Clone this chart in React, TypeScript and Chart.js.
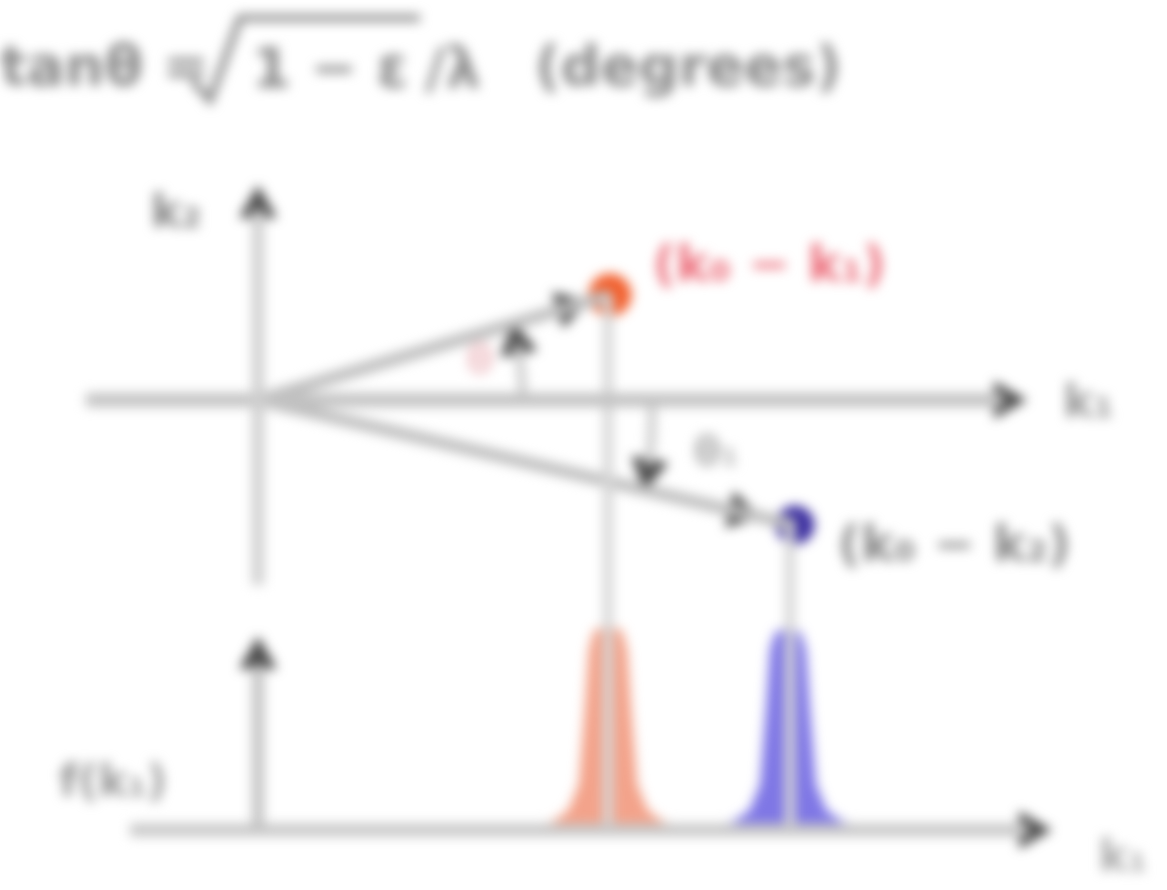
import React, { useEffect, useRef } from "react";
import { Chart, registerables } from "chart.js";

Chart.register(...registerables);

// ---- data (diagram units) ----
const upperAxisX = [{ x: -1.72, y: 0 }, { x: 7.45, y: 0 }];
const upperAxisY = [{ x: 0, y: -1.85 }, { x: 0, y: 1.9 }];
const lowerAxisX = [{ x: -1.28, y: 0 }, { x: 7.7, y: 0 }];
const lowerAxisY = [{ x: 0, y: 0 }, { x: 0, y: 1.65 }];

const redVector = [{ x: 0, y: 0 }, { x: 3.52, y: 1.05 }];
const blueVector = [{ x: 0, y: 0 }, { x: 5.37, y: -1.25 }];
const redArc = [{ x: 2.65, y: 0 }, { x: 2.64, y: 0.2 }, { x: 2.62, y: 0.4 }, { x: 2.59, y: 0.56 }];
const blueArc = [{ x: 3.94, y: 0 }, { x: 3.94, y: -0.2 }, { x: 3.93, y: -0.45 }, { x: 3.9, y: -0.66 }];

const redPoint = [{ x: 3.52, y: 1.05 }];
const bluePoint = [{ x: 5.37, y: -1.25 }];

const redDrop = [{ x: 3.5, y: 0 }, { x: 3.5, y: 5.35 }];
const blueDrop = [{ x: 5.32, y: 0 }, { x: 5.32, y: 3.05 }];

const redPeakX = [2.75, 2.95, 3.12, 3.23, 3.29, 3.33, 3.38, 3.5, 3.62, 3.67, 3.71, 3.77, 3.88, 4.05, 4.25];
const redPeakY = [0, 0.06, 0.18, 0.45, 1.2, 1.8, 1.98, 2.02, 1.98, 1.8, 1.2, 0.45, 0.18, 0.06, 0];
const bluePeakX = [4.55, 4.75, 4.93, 5.04, 5.1, 5.14, 5.19, 5.3, 5.41, 5.46, 5.5, 5.56, 5.67, 5.85, 6.05];
const bluePeakY = [0, 0.06, 0.18, 0.45, 1.2, 1.8, 1.96, 2.0, 1.96, 1.8, 1.2, 0.45, 0.18, 0.06, 0];

const arrowsUpper = [
  { x: 7.47, y: 0 },
  { x: 0, y: 1.93 },
  { x: 3.1, y: 0.93 },
  { x: 4.82, y: -1.12 },
  { x: 2.59, y: 0.57 },
  { x: 3.9, y: -0.7 },
];
const arrowsUpperRot = [90, 0, 73, 103, -10, 190];
const arrowsLower = [{ x: 7.72, y: 0 }, { x: 0, y: 1.72 }];
const arrowsLowerRot = [90, 0];

const labelTexts = ["k₂", "k₁", "(k₀ − k₁)", "(k₀ − k₂)", "θ", "θ₁", "f(k₁)", "k₁"];

const pk = (xs: number[], ys: number[]) => xs.map((x, i) => ({ x, y: ys[i] }));

export default function App() {
  const ref = useRef<HTMLCanvasElement>(null);
  useEffect(() => {
    if (!ref.current) return;
    const line = (data: any, color: string, width: number, axis = "y", extra: any = {}) => ({
      data,
      showLine: true,
      borderColor: color,
      borderWidth: width,
      pointRadius: 0,
      yAxisID: axis,
      fill: false,
      ...extra,
    });
    const labelsPlugin = {
      id: "labels",
      afterDatasetsDraw(chart: any) {
        const ctx = chart.ctx;
        const sx = chart.scales.x, sy = chart.scales.y, sy2 = chart.scales.y2;
        const font = (s: number, w = "bold") => `${w} ${s}px "DejaVu Sans", sans-serif`;
        ctx.save();
        ctx.textBaseline = "middle";
        // title formula
        ctx.fillStyle = "#8a8a8a";
        ctx.font = font(56);
        ctx.textAlign = "left";
        ctx.fillText("tanθ =", 0, 70);
        ctx.strokeStyle = "#8a8a8a";
        ctx.lineWidth = 7;
        ctx.beginPath();
        ctx.moveTo(192, 80);
        ctx.lineTo(210, 100);
        ctx.lineTo(240, 18);
        ctx.lineTo(420, 18);
        ctx.stroke();
        ctx.fillText("1 − ε", 252, 72);
        ctx.fillText("/λ", 425, 72);
        ctx.fillText("(degrees)", 535, 70);
        const place = (t: string, x: number, y: number, color: string, size: number, align = "left") => {
          ctx.fillStyle = color;
          ctx.font = font(size);
          ctx.textAlign = align;
          ctx.fillText(t, x, y);
        };
        place(labelTexts[0], sx.getPixelForValue(-0.82), sy.getPixelForValue(1.85), "#888", 46, "center");
        place(labelTexts[1], sx.getPixelForValue(8.05), sy.getPixelForValue(-0.05), "#999", 46);
        place(labelTexts[2], sx.getPixelForValue(3.95), sy.getPixelForValue(1.32), "#ec6f7c", 50);
        place(labelTexts[3], sx.getPixelForValue(5.8), sy.getPixelForValue(-1.48), "#888", 50);
        place(labelTexts[4], sx.getPixelForValue(2.22), sy.getPixelForValue(0.37), "#f0c8cc", 40, "center");
        place(labelTexts[5], sx.getPixelForValue(4.58), sy.getPixelForValue(-0.55), "#b5b5b5", 40, "center");
        place(labelTexts[6], sx.getPixelForValue(-1.45), sy2.getPixelForValue(0.45), "#999", 44, "center");
        place(labelTexts[7], sx.getPixelForValue(8.65), sy2.getPixelForValue(-0.3), "#aaa", 44, "center");
        ctx.restore();
      },
    };
    const chart = new Chart(ref.current, {
      type: "scatter",
      data: {
        datasets: [
          line(upperAxisY, "#cfcfcf", 12),
          line(upperAxisX, "#c2c2c2", 14),
          line(lowerAxisY, "#c2c2c2", 12, "y2"),
          line(lowerAxisX, "#c8c8c8", 13, "y2"),
          line(redDrop, "#d6d6d6", 10, "y2"),
          line(blueDrop, "#d6d6d6", 10, "y2"),
          line(pk(redPeakX, redPeakY), "rgba(240,140,110,0.55)", 6, "y2", {
            fill: { value: 0 },
            backgroundColor: "rgba(240,140,110,0.8)",
          }),
          line(pk(bluePeakX, bluePeakY), "rgba(110,100,230,0.55)", 6, "y2", {
            fill: { value: 0 },
            backgroundColor: "rgba(105,95,225,0.85)",
          }),
          line(redVector, "#bdbdbd", 12),
          line(blueVector, "#bdbdbd", 12),
          line(redArc, "#c8c8c8", 8),
          line(blueArc, "#c8c8c8", 8),
          {
            data: arrowsUpper,
            pointStyle: "triangle",
            pointRotation: arrowsUpperRot,
            pointRadius: 18,
            backgroundColor: "#4a4a4a",
            borderColor: "#4a4a4a",
            borderWidth: 4,
            yAxisID: "y",
          },
          {
            data: arrowsLower,
            pointStyle: "triangle",
            pointRotation: arrowsLowerRot,
            pointRadius: 18,
            backgroundColor: "#4a4a4a",
            borderColor: "#4a4a4a",
            borderWidth: 4,
            yAxisID: "y2",
          },
          { data: redPoint, pointRadius: 21, backgroundColor: "#f2602e", borderColor: "#f2602e", yAxisID: "y" },
          { data: bluePoint, pointRadius: 19, backgroundColor: "#3b2ea0", borderColor: "#3b2ea0", yAxisID: "y" },
        ],
      },
      options: {
        responsive: false,
        animation: false,
        layout: { padding: 0, autoPadding: false },
        plugins: { legend: { display: false }, tooltip: { enabled: false } },
        scales: {
          x: { type: "linear", min: -2.58, max: 9.09, display: false },
          y: { type: "linear", min: -4.9, max: 4.0, display: false },
          y2: { type: "linear", min: -0.6, max: 8.3, display: false },
        },
      },
      plugins: [labelsPlugin],
    } as any);
    return () => chart.destroy();
  }, []);
  return (
    <div style={{ position: "fixed", left: 0, top: 0, width: 1167, height: 890, background: "#fff" }}>
      <canvas ref={ref} width={1167} height={890} style={{ display: "block", filter: "blur(6px)" }} />
    </div>
  );
}
